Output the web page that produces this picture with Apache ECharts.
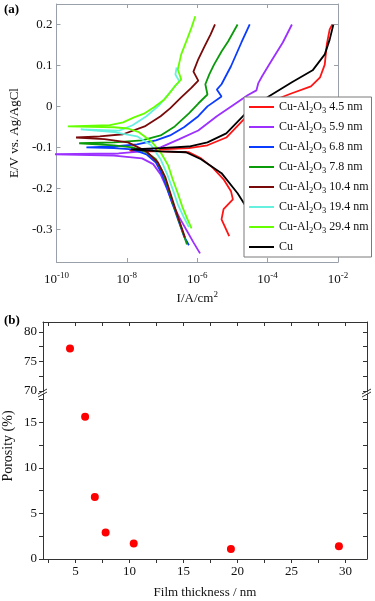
<!DOCTYPE html>
<html>
<head>
<meta charset="utf-8">
<title>Tafel curves and porosity</title>
<script src="https://cdn.jsdelivr.net/npm/echarts@6/dist/echarts.min.js"></script>
<style>
html, body { margin: 0; padding: 0; background: #fff; }
#main { width: 375px; height: 601px; }
</style>
</head>
<body>
<div id="main"></div>
<script>
'use strict';

// (a) polarization curves: current density (A/cm2) vs potential (V vs Ag/AgCl)
// each curve runs cathodic end -> corrosion potential spike -> anodic end
var seriesNames = ['Cu-Al2O3 4.5 nm', 'Cu-Al2O3 5.9 nm', 'Cu-Al2O3 6.8 nm', 'Cu-Al2O3 7.8 nm',
    'Cu-Al2O3 10.4 nm', 'Cu-Al2O3 19.4 nm', 'Cu-Al2O3 29.4 nm', 'Cu'];
var lineColors = ['#ff1414', '#9b30ff', '#0a3cff', '#0a9a0a', '#7a0a0a', '#66f0e0', '#66ff00', '#000000'];

var i45 = [8.1e-6, 4.9e-6, 5.6e-6, 1.03e-5, 9.1e-6, 5.6e-6, 2.7e-6, 1.28e-6, 5.8e-7, 9.1e-8, 1.45e-8, 1.2e-8,
    9.1e-8, 5.8e-7, 1.95e-6, 6.7e-6, 2.7e-5, 1.07e-4, 4.9e-4, 1.7e-3, 3.1e-3, 4.2e-3, 4.8e-3, 5.8e-3, 6.9e-3];
var e45 = [-0.317, -0.276, -0.251, -0.227, -0.207, -0.178, -0.149, -0.127, -0.112, -0.110, -0.110, -0.107,
    -0.105, -0.102, -0.095, -0.076, -0.022, 0.010, 0.032, 0.049, 0.071, 0.102, 0.151, 0.188, 0.200];

var i59 = [1.2e-6, 7.8e-7, 4.8e-7, 3.1e-7, 2.0e-7, 1.4e-7, 9.1e-8, 5.6e-8, 2.7e-8, 4.3e-9, 6e-11,
    5.8e-9, 2.7e-8, 9.1e-8, 3.1e-7, 1.07e-6, 3.6e-6, 1.23e-5, 2.7e-5, 4.8e-5, 5.4e-5, 6.9e-5, 1.2e-4, 2.7e-4, 4.9e-4];
var e59 = [-0.359, -0.332, -0.300, -0.271, -0.239, -0.202, -0.166, -0.141, -0.127, -0.120, -0.117,
    -0.115, -0.110, -0.100, -0.080, -0.059, -0.024, 0.007, 0.027, 0.039, 0.056, 0.073, 0.107, 0.156, 0.200];

var i68 = [5.8e-7, 4.2e-7, 3.1e-7, 2.15e-7, 1.49e-7, 1.03e-7, 6.7e-8, 3.6e-8, 1.45e-8, 4.3e-9, 7.1e-10,
    4.3e-9, 1.95e-8, 6.7e-8, 1.69e-7, 4.2e-7, 1.07e-6, 1.95e-6, 4.9e-6, 3.6e-6, 4.9e-6, 9.1e-6, 1.8e-5, 3.1e-5];
var e68 = [-0.339, -0.317, -0.285, -0.246, -0.207, -0.168, -0.137, -0.117, -0.105, -0.102, -0.100,
    -0.098, -0.093, -0.083, -0.071, -0.051, -0.024, 0.000, 0.024, 0.041, 0.054, 0.098, 0.156, 0.200];

var i78 = [5.1e-7, 3.8e-7, 2.8e-7, 2.0e-7, 1.49e-7, 1.03e-7, 6.7e-8, 3.6e-8, 1.45e-8, 4.3e-9, 4.4e-10,
    4.3e-9, 2.7e-8, 9.1e-8, 2.3e-7, 5.8e-7, 1.07e-6, 1.95e-6, 1.7e-6, 2.2e-6, 3.0e-6, 4.9e-6, 7.6e-6, 1.4e-5];
var e78 = [-0.337, -0.305, -0.271, -0.234, -0.198, -0.159, -0.129, -0.112, -0.100, -0.095, -0.090,
    -0.088, -0.083, -0.071, -0.049, -0.017, 0.007, 0.029, 0.054, 0.078, 0.102, 0.134, 0.159, 0.200];

var i104 = [4.5e-7, 3.1e-7, 2.3e-7, 1.69e-7, 1.24e-7, 7.6e-8, 3.6e-8, 1.07e-8, 2.3e-9, 3.6e-10,
    1.7e-9, 7.8e-9, 3.2e-8, 9.1e-8, 1.69e-7, 3.5e-7, 6.9e-7, 1.07e-6, 7.8e-7, 1.07e-6, 1.6e-6, 2.4e-6, 3.2e-6];
var e104 = [-0.320, -0.280, -0.246, -0.210, -0.173, -0.137, -0.110, -0.088, -0.080, -0.076,
    -0.073, -0.068, -0.049, -0.024, -0.005, 0.022, 0.046, 0.063, 0.085, 0.115, 0.146, 0.176, 0.200];

var i194 = [5.8e-7, 4.0e-7, 2.8e-7, 2.0e-7, 1.4e-7, 9.1e-8, 4.9e-8, 1.95e-8, 4.3e-9, 4.9e-10,
    6.1e-9, 1.45e-8, 3.6e-8, 8.1e-8, 1.49e-7, 2.3e-7, 3.1e-7, 2.4e-7, 2.6e-7];
var e194 = [-0.295, -0.268, -0.239, -0.202, -0.166, -0.129, -0.095, -0.073, -0.063, -0.056,
    -0.059, -0.046, -0.024, 0.002, 0.029, 0.049, 0.061, 0.078, 0.095];

var i294 = [6.9e-7, 5.1e-7, 3.8e-7, 2.8e-7, 2.0e-7, 1.49e-7, 9.1e-8, 4.9e-8, 2.2e-8, 1.07e-8, 4.3e-9, 2.1e-10,
    3.3e-9, 7.8e-9, 1.6e-8, 3.2e-8, 5.9e-8, 1.17e-7, 1.69e-7, 2.4e-7, 3.5e-7, 2.8e-7, 3.5e-7, 5.1e-7, 6.9e-7, 8.8e-7];
var e294 = [-0.298, -0.273, -0.246, -0.212, -0.178, -0.144, -0.112, -0.085, -0.063, -0.054, -0.051, -0.049,
    -0.046, -0.039, -0.027, -0.017, -0.002, 0.017, 0.034, 0.051, 0.066, 0.090, 0.127, 0.163, 0.193, 0.220];

var iCu = [8.9e-5, 3.1e-5, 1.4e-5, 4.9e-6, 1.28e-6, 4.8e-7, 9.1e-8, 1.3e-8,
    9.1e-8, 5.8e-7, 1.95e-6, 6.7e-6, 2.7e-5, 1.07e-4, 4.9e-4, 1.9e-3, 4.2e-3, 5.8e-3, 7.4e-3];
var eCu = [-0.349, -0.259, -0.212, -0.163, -0.129, -0.112, -0.110, -0.105,
    -0.102, -0.098, -0.088, -0.066, -0.012, 0.024, 0.059, 0.088, 0.127, 0.163, 0.200];

var currents = [i45, i59, i68, i78, i104, i194, i294, iCu];
var potentials = [e45, e59, e68, e78, e104, e194, e294, eCu];

var decadeTicks = [1e-10, 1e-8, 1e-6, 1e-4, 1e-2];
var potentialTicks = [-0.3, -0.2, -0.1, 0, 0.1, 0.2];

// (b) porosity vs film thickness (broken y axis)
var thickness = [4.5, 5.9, 6.8, 7.8, 10.4, 19.4, 29.4];
var porosity = [77.2, 15.6, 6.8, 2.9, 1.7, 1.1, 1.4];
var thicknessLabels = [5, 10, 15, 20, 25, 30];
var thicknessTicks = [2.5, 5, 7.5, 10, 12.5, 15, 17.5, 20, 22.5, 25, 27.5, 30];
var upperLabels = [70, 75, 80];
var upperTicks = [70, 72.5, 75, 77.5, 80];
var lowerLabels = [0, 5, 10, 15];
var lowerTicks = [0, 2.5, 5, 7.5, 10, 12.5, 15, 17.5];
var breakValue = 40;

var serif = '"Liberation Serif", "DejaVu Serif", serif';
var greyA = '#9aa0aa';
var darkB = '#333333';

function zip(xs, ys) {
    var out = [];
    for (var k = 0; k < xs.length; k++) {
        out.push([xs[k], ys[k]]);
    }
    return out;
}

var supRich = {
    sup: { fontFamily: serif, fontSize: 9, color: '#111', verticalAlign: 'top', lineHeight: 9 }
};

// one frame axis, ticks and labels only where asked
function makeAxis(o) {
    return {
        gridIndex: o.grid,
        type: o.type || 'value',
        logBase: 10,
        position: o.position,
        min: o.min,
        max: o.max,
        axisLine: { show: true, onZero: false, lineStyle: { color: o.color, width: 1 } },
        axisTick: {
            show: true, inside: o.inside, length: o.tickLen || 4, customValues: o.ticks,
            lineStyle: { color: o.color, width: 1 }
        },
        minorTick: { show: false },
        splitLine: { show: false },
        axisLabel: o.labels ? {
            show: true, customValues: o.labels, margin: o.margin, formatter: o.formatter,
            fontFamily: serif, fontSize: 13, color: '#111', lineHeight: o.lineHeight, rich: o.rich
        } : { show: false },
        name: o.name,
        nameLocation: 'middle',
        nameGap: o.nameGap,
        nameTextStyle: { fontFamily: serif, fontSize: 13, color: '#111', lineHeight: o.lineHeight, rich: o.rich }
    };
}

var series = [];
for (var s = 0; s < seriesNames.length; s++) {
    series.push({
        name: seriesNames[s],
        type: 'line',
        xAxisIndex: 0,
        yAxisIndex: 0,
        data: zip(currents[s], potentials[s]),
        symbol: 'none',
        lineStyle: { width: 1.8, color: lineColors[s] },
        itemStyle: { color: lineColors[s] }
    });
}

var upperPts = [];
var lowerPts = [];
for (var k = 0; k < thickness.length; k++) {
    if (porosity[k] > breakValue) upperPts.push([thickness[k], porosity[k]]);
    else lowerPts.push([thickness[k], porosity[k]]);
}
var dotStyle = { color: '#ff0000', opacity: 1 };
series.push({ type: 'scatter', xAxisIndex: 2, yAxisIndex: 2, data: upperPts, symbolSize: 8, itemStyle: dotStyle });
series.push({ type: 'scatter', xAxisIndex: 3, yAxisIndex: 4, data: lowerPts, symbolSize: 8, itemStyle: dotStyle });

// axis break marks "//"
function breakMark(x, y) {
    return {
        type: 'group',
        children: [
            { type: 'polygon', shape: { points: [[x - 5, y + 1], [x + 4, y - 4], [x + 4, y - 1], [x - 5, y + 4]] }, style: { fill: '#fff' } },
            { type: 'line', shape: { x1: x - 5, y1: y + 1, x2: x + 4, y2: y - 4 }, style: { stroke: darkB, lineWidth: 1 } },
            { type: 'line', shape: { x1: x - 5, y1: y + 4, x2: x + 4, y2: y - 1 }, style: { stroke: darkB, lineWidth: 1 } }
        ]
    };
}

var option = {
    animation: false,
    backgroundColor: '#fff',
    textStyle: { fontFamily: serif },
    grid: [
        { left: 39, top: 4, width: 299, height: 258 },
        { left: 43, top: 322, width: 324, height: 70 },
        { left: 43, top: 394, width: 324, height: 165 }
    ],
    xAxis: [
        makeAxis({
            grid: 0, type: 'log', position: 'bottom', min: 1e-10, max: 1e-2, color: greyA, inside: true,
            ticks: decadeTicks, labels: decadeTicks, margin: 9, lineHeight: 18, rich: supRich,
            formatter: function (v) { return '10{sup|' + Math.round(Math.log10(v)) + '}'; },
            name: 'I/A/cm{sup|2}', nameGap: 5
        }),
        makeAxis({ grid: 0, type: 'log', position: 'top', min: 1e-10, max: 1e-2, color: greyA, inside: true, ticks: decadeTicks }),
        makeAxis({ grid: 1, position: 'top', min: 2, max: 32, color: darkB, inside: true, ticks: thicknessTicks }),
        makeAxis({
            grid: 2, position: 'bottom', min: 2, max: 32, color: darkB, inside: false, ticks: thicknessTicks,
            labels: thicknessLabels, margin: 6, name: 'Film thickness / nm', nameGap: 27
        })
    ],
    yAxis: [
        makeAxis({
            grid: 0, position: 'left', min: -0.38, max: 0.25, color: greyA, inside: true,
            ticks: potentialTicks, labels: potentialTicks, margin: 4, name: 'E/V vs. Ag/AgCl', nameGap: 20
        }),
        makeAxis({ grid: 0, position: 'right', min: -0.38, max: 0.25, color: greyA, inside: true, ticks: potentialTicks }),
        makeAxis({ grid: 1, position: 'left', min: 69.8, max: 81.7, color: darkB, inside: false, ticks: upperTicks, labels: upperLabels, margin: 6 }),
        makeAxis({ grid: 1, position: 'right', min: 69.8, max: 81.7, color: darkB, inside: true, ticks: upperTicks }),
        makeAxis({ grid: 2, position: 'left', min: 0, max: 18.1, color: darkB, inside: false, ticks: lowerTicks, labels: lowerLabels, margin: 6 }),
        makeAxis({ grid: 2, position: 'right', min: 0, max: 18.1, color: darkB, inside: true, ticks: lowerTicks })
    ],
    legend: {
        orient: 'vertical',
        left: 244,
        top: 97,
        data: seriesNames,
        icon: 'rect',
        itemWidth: 25,
        itemHeight: 2,
        itemGap: 4,
        padding: [2, 3, 2, 5],
        backgroundColor: '#fff',
        borderColor: '#7a7a7a',
        borderWidth: 1,
        borderRadius: 0,
        textStyle: {
            fontFamily: serif, fontSize: 12, color: '#111', lineHeight: 16,
            rich: { sub: { fontFamily: serif, fontSize: 8.5, color: '#111', verticalAlign: 'bottom', lineHeight: 9 } }
        },
        formatter: function (n) { return n.replace('Al2O3', 'Al{sub|2}O{sub|3}'); }
    },
    graphic: [
        { type: 'text', left: 4, top: 3, style: { text: '(a)', font: 'bold 13px "Liberation Serif"', fill: '#000' } },
        { type: 'text', left: 4, top: 314, style: { text: '(b)', font: 'bold 13px "Liberation Serif"', fill: '#000' } },
        {
            type: 'text', x: 8, y: 446, rotation: Math.PI / 2,
            style: { text: 'Porosity (%)', font: '14px "Liberation Serif"', fill: '#111', align: 'center', verticalAlign: 'middle' }
        },
        breakMark(43, 393),
        breakMark(367, 393)
    ],
    series: series
};

var chart = echarts.init(document.getElementById('main'), null, { renderer: 'canvas' });
chart.setOption(option);
</script>
</body>
</html>
